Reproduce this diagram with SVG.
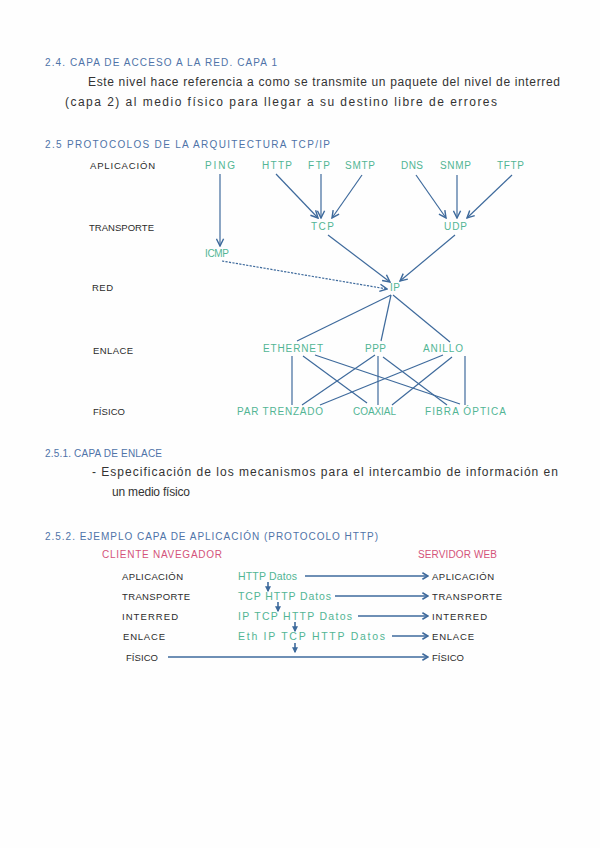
<svg xmlns="http://www.w3.org/2000/svg" width="600" height="848" viewBox="0 0 600 848">
<defs>
<style>
text{font-family:"Liberation Sans",Arial,sans-serif;}
.h{fill:#4f73a8;font-size:10px;}
.b{fill:#333;font-size:12px;}
.k{fill:#2b2b2b;font-size:9.5px;}
.g{fill:#52b594;font-size:10px;}
.p{fill:#52b594;font-size:10.5px;}
.r{fill:#d4537a;font-size:10px;}
.c{stroke:#3e6a9c;stroke-width:1.2;fill:none;}
.a{marker-end:url(#arr);}
.d{stroke-dasharray:2.2 1.3;}
.s{stroke:#3e6a9c;stroke-width:1.6;fill:none;marker-end:url(#dn);}
.t{stroke:#3e6a9c;stroke-width:1.5;fill:none;marker-end:url(#arr2);}
</style>
<marker id="arr" viewBox="0 0 10 10" refX="9" refY="5" markerWidth="9" markerHeight="9" markerUnits="userSpaceOnUse" orient="auto">
<path d="M1,1 L9,5 L1,9" fill="none" stroke="#3e6a9c" stroke-width="1.6"/>
</marker>
<marker id="arr2" viewBox="0 0 10 10" refX="9" refY="5" markerWidth="8" markerHeight="8" markerUnits="userSpaceOnUse" orient="auto">
<path d="M2,1 L9,5 L2,9" fill="none" stroke="#3e6a9c" stroke-width="2"/>
</marker>
<marker id="dn" viewBox="0 0 10 10" refX="8" refY="5" markerWidth="6" markerHeight="6" markerUnits="userSpaceOnUse" orient="auto">
<path d="M0,0 L10,5 L0,10 Z" fill="#3e6a9c"/>
</marker>
</defs>
<rect width="600" height="848" fill="#fefefe"/>

<g id="sec24">
<text class="h" x="45" y="66" textLength="232" lengthAdjust="spacing">2.4. CAPA DE ACCESO A LA RED. CAPA 1</text>
<text class="b" x="88" y="86" textLength="472" lengthAdjust="spacing">Este nivel hace referencia a como se transmite un paquete del nivel de interred</text>
<text class="b" x="65" y="106" textLength="432" lengthAdjust="spacing">(capa 2) al medio físico para llegar a su destino libre de errores</text>
</g>

<g id="sec25">
<text class="h" x="45" y="148" textLength="285" lengthAdjust="spacing">2.5 PROTOCOLOS DE LA ARQUITECTURA TCP/IP</text>
</g>

<g id="layers">
<text class="k" x="90" y="169" textLength="65" lengthAdjust="spacing">APLICACIÓN</text>
<text class="k" x="89" y="231" textLength="65" lengthAdjust="spacing">TRANSPORTE</text>
<text class="k" x="92" y="291" textLength="21" lengthAdjust="spacing">RED</text>
<text class="k" x="93" y="354" textLength="40" lengthAdjust="spacing">ENLACE</text>
<text class="k" x="93" y="415" textLength="32" lengthAdjust="spacing">FÍSICO</text>
</g>

<g id="n-ping"><text class="g" x="205" y="169" textLength="30" lengthAdjust="spacing">PING</text></g>
<g id="n-http"><text class="g" x="262" y="169" textLength="30" lengthAdjust="spacing">HTTP</text></g>
<g id="n-ftp"><text class="g" x="308" y="169" textLength="22" lengthAdjust="spacing">FTP</text></g>
<g id="n-smtp"><text class="g" x="345" y="169" textLength="30" lengthAdjust="spacing">SMTP</text></g>
<g id="n-dns"><text class="g" x="401" y="169" textLength="22" lengthAdjust="spacing">DNS</text></g>
<g id="n-snmp"><text class="g" x="440" y="169" textLength="31" lengthAdjust="spacing">SNMP</text></g>
<g id="n-tftp"><text class="g" x="497" y="169" textLength="27" lengthAdjust="spacing">TFTP</text></g>
<g id="n-tcp"><text class="g" x="311" y="230" textLength="23" lengthAdjust="spacing">TCP</text></g>
<g id="n-udp"><text class="g" x="444" y="230" textLength="23" lengthAdjust="spacing">UDP</text></g>
<g id="n-icmp"><text class="g" x="205" y="257" textLength="24" lengthAdjust="spacing">ICMP</text></g>
<g id="n-ip"><text class="g" x="390" y="291" textLength="10" lengthAdjust="spacing">IP</text></g>
<g id="n-ethernet"><text class="g" x="263" y="352" textLength="60" lengthAdjust="spacing">ETHERNET</text></g>
<g id="n-ppp"><text class="g" x="365" y="352" textLength="21" lengthAdjust="spacing">PPP</text></g>
<g id="n-anillo"><text class="g" x="423" y="352" textLength="40" lengthAdjust="spacing">ANILLO</text></g>
<g id="n-par"><text class="g" x="237" y="415" textLength="86" lengthAdjust="spacing">PAR TRENZADO</text></g>
<g id="n-coaxial"><text class="g" x="353" y="415" textLength="43" lengthAdjust="spacing">COAXIAL</text></g>
<g id="n-fibra"><text class="g" x="425" y="415" textLength="81" lengthAdjust="spacing">FIBRA ÓPTICA</text></g>

<g id="connectors">
<path class="c a" d="M220,174 L220,246"/>
<path class="c a" d="M276,174 L318,218"/>
<path class="c a" d="M321,174 L321,218"/>
<path class="c a" d="M362,175 L332,218"/>
<path class="c a" d="M416,175 L446,218"/>
<path class="c a" d="M457,175 L457,218"/>
<path class="c a" d="M512,175 L467,218"/>
<path class="c a" d="M328,235 L390,282"/>
<path class="c a" d="M455,235 L400,281"/>
<path class="c a d" d="M222,261 L387,289"/>
<path class="c" d="M391,295 L297,341"/>
<path class="c" d="M391,295 L381,341"/>
<path class="c" d="M393,295 L450,342"/>
<path class="c" d="M292,356 L292,405"/>
<path class="c" d="M303,356 L367,403"/>
<path class="c" d="M315,355 L460,404"/>
<path class="c" d="M375,355 L302,405"/>
<path class="c" d="M378,356 L378,405"/>
<path class="c" d="M383,357 L447,405"/>
<path class="c" d="M443,355 L320,405"/>
<path class="c" d="M452,357 L392,405"/>
<path class="c" d="M465,356 L465,405"/>
</g>

<g id="sec251">
<text class="h" x="45" y="457" textLength="117" lengthAdjust="spacing">2.5.1. CAPA DE ENLACE</text>
<text class="b" x="92" y="476" textLength="466" lengthAdjust="spacing">- Especificación de los mecanismos para el intercambio de información en</text>
<text class="b" x="112" y="496" textLength="78" lengthAdjust="spacing">un medio físico</text>
</g>

<g id="sec252">
<text class="h" x="45" y="540" textLength="333" lengthAdjust="spacing">2.5.2. EJEMPLO CAPA DE APLICACIÓN (PROTOCOLO HTTP)</text>
</g>
<g id="n-cliente"><text class="r" x="102" y="558" textLength="120" lengthAdjust="spacing">CLIENTE NAVEGADOR</text></g>
<g id="n-servidor"><text class="r" x="418" y="558" textLength="79" lengthAdjust="spacing">SERVIDOR WEB</text></g>

<g id="client-layers">
<text class="k" x="122" y="580" textLength="61" lengthAdjust="spacing">APLICACIÓN</text>
<text class="k" x="122" y="600" textLength="68" lengthAdjust="spacing">TRANSPORTE</text>
<text class="k" x="122" y="620" textLength="56" lengthAdjust="spacing">INTERRED</text>
<text class="k" x="123" y="640" textLength="42" lengthAdjust="spacing">ENLACE</text>
<text class="k" x="126" y="661" textLength="32" lengthAdjust="spacing">FÍSICO</text>
</g>

<g id="packets">
<text class="p" x="238" y="580" textLength="59" lengthAdjust="spacing">HTTP Datos</text>
<text class="p" x="238" y="600" textLength="93" lengthAdjust="spacing">TCP HTTP Datos</text>
<text class="p" x="238" y="620" textLength="114" lengthAdjust="spacing">IP TCP HTTP Datos</text>
<text class="p" x="238" y="640" textLength="147" lengthAdjust="spacing">Eth IP TCP HTTP Datos</text>
</g>

<g id="server-layers">
<text class="k" x="432" y="580" textLength="62" lengthAdjust="spacing">APLICACIÓN</text>
<text class="k" x="432" y="600" textLength="70" lengthAdjust="spacing">TRANSPORTE</text>
<text class="k" x="432" y="620" textLength="55" lengthAdjust="spacing">INTERRED</text>
<text class="k" x="432" y="640" textLength="42" lengthAdjust="spacing">ENLACE</text>
<text class="k" x="432" y="661" textLength="32" lengthAdjust="spacing">FÍSICO</text>
</g>

<g id="flow-connectors">
<path class="s" d="M268,582 L268,591"/>
<path class="s" d="M278,602 L278,611"/>
<path class="s" d="M295,622 L295,631"/>
<path class="s" d="M295,643 L295,652"/>
<path class="t" d="M305,576 L428,576"/>
<path class="t" d="M335,596 L428,596"/>
<path class="t" d="M358,616 L428,616"/>
<path class="t" d="M392,636 L428,636"/>
<path class="t" d="M168,657 L428,657"/>
</g>
</svg>
